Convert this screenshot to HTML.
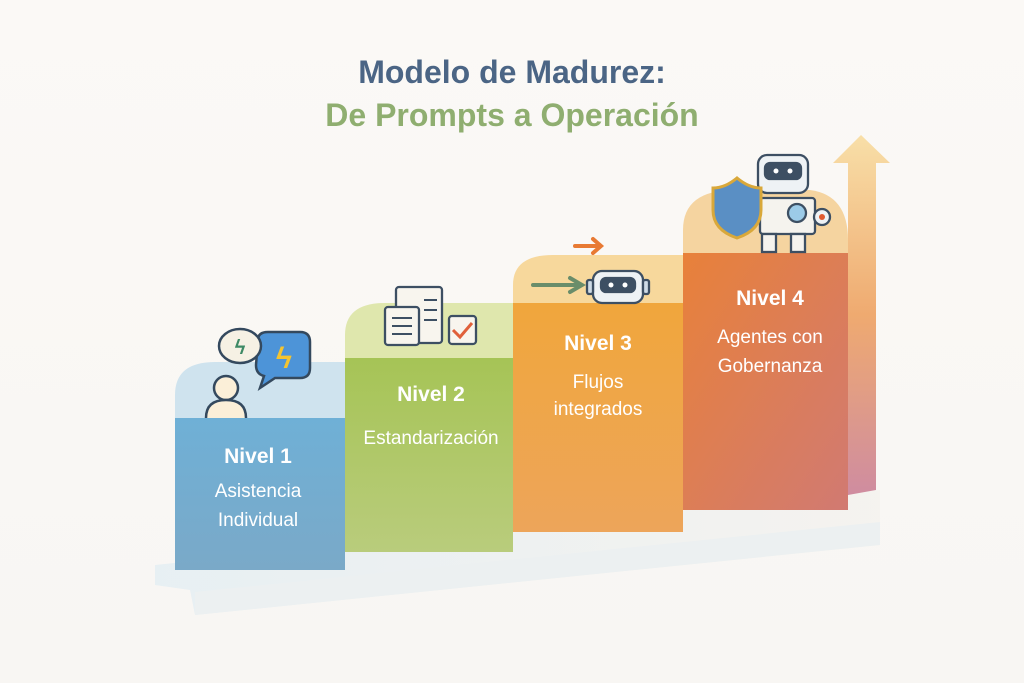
<!DOCTYPE html>
<html><head><meta charset="utf-8"><style>
html,body{margin:0;padding:0;background:#faf8f5;}
svg{display:block}
text{font-family:"Liberation Sans","DejaVu Sans",sans-serif}
</style></head><body>
<svg width="1024" height="683" viewBox="0 0 1024 683" xmlns="http://www.w3.org/2000/svg">
<defs>
<linearGradient id="bg" x1="0" y1="0" x2="0" y2="1"><stop offset="0" stop-color="#fbf9f6"/><stop offset="1" stop-color="#f8f6f3"/></linearGradient>
<linearGradient id="b1" x1="0" y1="0" x2="0" y2="1"><stop offset="0" stop-color="#6fb0d6"/><stop offset="1" stop-color="#7aa9c8"/></linearGradient>
<linearGradient id="b2" x1="0" y1="0" x2="0" y2="1"><stop offset="0" stop-color="#a6c456"/><stop offset="1" stop-color="#b9cc7c"/></linearGradient>
<linearGradient id="b3" x1="0" y1="0" x2="0" y2="1"><stop offset="0" stop-color="#f0a63c"/><stop offset="1" stop-color="#eda55a"/></linearGradient>
<linearGradient id="b4" x1="0" y1="0" x2="1" y2="1"><stop offset="0" stop-color="#e8813a"/><stop offset="1" stop-color="#d17a72"/></linearGradient>
<linearGradient id="ar" x1="0" y1="0" x2="0" y2="1"><stop offset="0" stop-color="#f8dfa8"/><stop offset="0.5" stop-color="#efaa70"/><stop offset="1" stop-color="#cf8ca0"/></linearGradient>
<linearGradient id="base" x1="0" y1="0" x2="1" y2="0"><stop offset="0" stop-color="#e4eef3"/><stop offset="1" stop-color="#f4f2ee"/></linearGradient>
</defs>
<rect width="1024" height="683" fill="url(#bg)"/>
<text x="512" y="83" text-anchor="middle" font-size="32" font-weight="bold" fill="#4b6585">Modelo de Madurez:</text>
<text x="512" y="126" text-anchor="middle" font-size="32" font-weight="bold" fill="#8fae70">De Prompts a Operación</text>
<!-- base -->
<polygon points="155,565 880,490 880,545 195,615 190,590 155,585" fill="url(#base)" opacity="0.85"/>
<polygon points="195,592 880,522 880,545 195,615" fill="#ecf0f1"/>
<!-- arrow -->
<polygon points="848,495 848,163 833,163 861,135 890,163 876,163 876,490" fill="url(#ar)"/>
<!-- caps -->
<path d="M175,418 V395 Q175,362 215,362 H345 V418 Z" fill="#cfe3ee"/>
<path d="M345,358 V335 Q345,303 385,303 H513 V358 Z" fill="#dfe7ad"/>
<path d="M513,303 V285 Q513,255 553,255 H683 V303 Z" fill="#f7d89c"/>
<path d="M683,253 V230 Q683,190 735,190 H810 Q848,195 848,240 V253 Z" fill="#f5d4a0"/>
<!-- blocks -->
<rect x="175" y="418" width="170" height="152" fill="url(#b1)"/>
<rect x="345" y="358" width="168" height="194" fill="url(#b2)"/>
<rect x="513" y="303" width="170" height="229" fill="url(#b3)"/>
<rect x="683" y="253" width="165" height="257" fill="url(#b4)"/>
<!-- texts -->
<g fill="#fff" text-anchor="middle">
<text x="258" y="463" font-size="21" font-weight="bold">Nivel 1</text>
<text x="258" y="497" font-size="19">Asistencia</text>
<text x="258" y="526" font-size="19">Individual</text>
<text x="431" y="401" font-size="21" font-weight="bold">Nivel 2</text>
<text x="431" y="444" font-size="19">Estandarización</text>
<text x="598" y="350" font-size="21" font-weight="bold">Nivel 3</text>
<text x="598" y="388" font-size="19">Flujos</text>
<text x="598" y="415" font-size="19">integrados</text>
<text x="770" y="305" font-size="21" font-weight="bold">Nivel 4</text>
<text x="770" y="343" font-size="19">Agentes con</text>
<text x="770" y="372" font-size="19">Gobernanza</text>
</g>
<!-- icon level1 -->
<g stroke="#34495e" stroke-width="2.5">
<circle cx="226" cy="388" r="12" fill="#fbefd8"/>
<path d="M206,418 Q206,400 226,400 Q246,400 246,418" fill="#fbefd8"/>
<path d="M258,340 Q258,332 268,332 H300 Q310,332 310,342 V368 Q310,378 300,378 H275 L260,388 L264,376 Q256,374 256,365 Z" fill="#4d94d8"/>
<ellipse cx="240" cy="346" rx="21" ry="17" fill="#f6f1e4"/>
</g>
<text x="240" y="354" text-anchor="middle" font-size="20" fill="#3e8a65" font-weight="bold">ϟ</text>
<text x="284" y="368" text-anchor="middle" font-size="30" fill="#f4c430" font-weight="bold">ϟ</text>
<!-- icon level2 -->
<g stroke="#3d4f63" stroke-width="2.3" fill="#f8f5ee">
<rect x="396" y="287" width="46" height="56" rx="3"/>
<rect x="385" y="307" width="34" height="38" rx="3"/>
<rect x="449" y="316" width="27" height="28" rx="3"/>
</g>
<g stroke="#3d4f63" stroke-width="2"><line x1="392" y1="318" x2="412" y2="318"/><line x1="392" y1="326" x2="412" y2="326"/><line x1="392" y1="334" x2="412" y2="334"/><line x1="424" y1="300" x2="437" y2="300"/><line x1="424" y1="310" x2="437" y2="310"/><line x1="424" y1="320" x2="437" y2="320"/></g>
<path d="M453,330 L460,337 L472,323" stroke="#e0603a" stroke-width="3" fill="none"/>
<!-- icon level3 -->
<path d="M575,246 H600 M593,239 L601,246 L593,253" stroke="#e87a33" stroke-width="4" fill="none" stroke-linecap="round"/>
<path d="M533,285 H578 M570,278 L582,285 L570,292" stroke="#6a8d6a" stroke-width="4" fill="none" stroke-linecap="round"/>
<g stroke="#3d4f63" stroke-width="2.3"><rect x="593" y="271" width="50" height="32" rx="9" fill="#eef2f5"/><rect x="601" y="278" width="34" height="14" rx="5" fill="#3d4f63"/><rect x="587" y="280" width="6" height="14" rx="2" fill="#cfdbe6"/><rect x="643" y="280" width="6" height="14" rx="2" fill="#cfdbe6"/></g>
<circle cx="611" cy="285" r="2.5" fill="#fff"/><circle cx="625" cy="285" r="2.5" fill="#fff"/>
<!-- icon level4 -->
<g stroke="#3d4f63" stroke-width="2.3">
<rect x="758" y="155" width="50" height="38" rx="9" fill="#eef2f5"/><rect x="765" y="163" width="36" height="16" rx="5" fill="#3d4f63"/>
<rect x="760" y="198" width="55" height="36" rx="3" fill="#f5f3ee"/>
<circle cx="797" cy="213" r="9" fill="#9ccbe8"/>
<rect x="762" y="234" width="14" height="18" fill="#f5f3ee"/><rect x="791" y="234" width="14" height="18" fill="#f5f3ee"/>
<circle cx="822" cy="217" r="8" fill="#eef2f5"/>
<path d="M737,178 Q725,188 713,188 V210 Q713,230 737,238 Q761,230 761,210 V188 Q749,188 737,178 Z" fill="#5a8fc4" stroke="#d9a83a" stroke-width="3"/>
</g>
<circle cx="822" cy="217" r="3" fill="#e05a30"/>
<circle cx="776" cy="171" r="2.5" fill="#fff"/><circle cx="790" cy="171" r="2.5" fill="#fff"/>
</svg>
</body></html>
